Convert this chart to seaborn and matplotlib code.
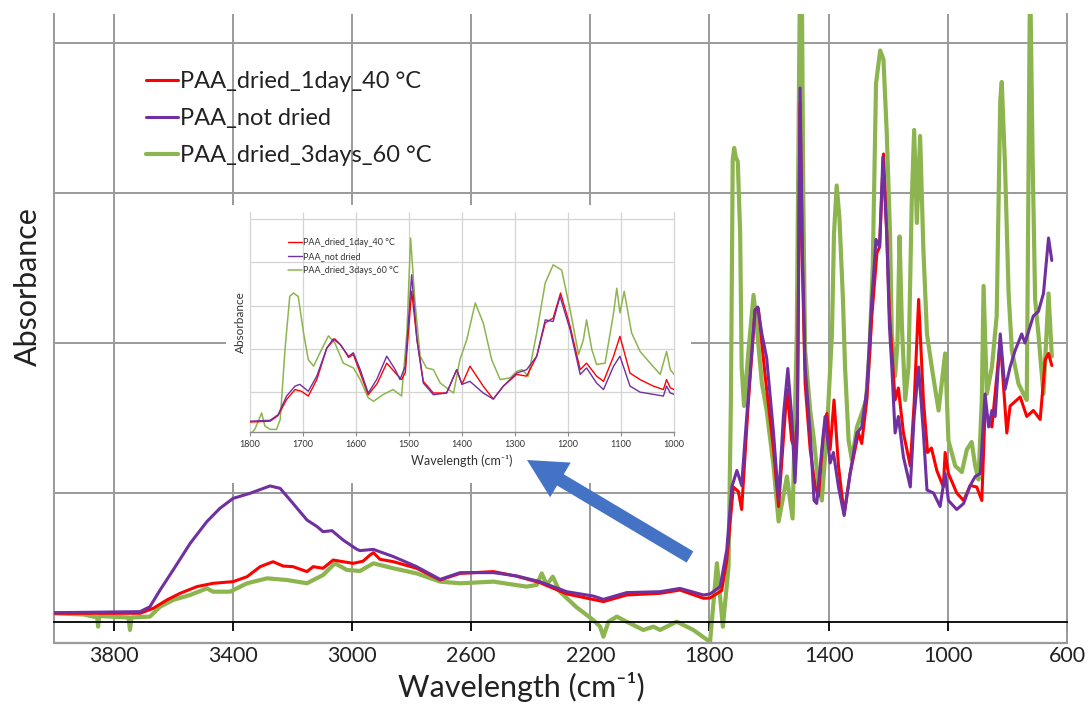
import matplotlib.pyplot as plt
from matplotlib.patches import Rectangle, FancyArrowPatch
import seaborn as sns

sns.set_style("white")
plt.rcParams['font.family'] = ['Lato', 'DejaVu Sans']

# ---------------------------------------------------
# Data
# ---------------------------------------------------

labels = ["PAA_dried_1day_40 °C", "PAA_not dried", "PAA_dried_3days_60 °C"]
colors = ["#ff0000", "#7030a0", "#8db54f"]

x_ticks = [3800, 3400, 3000, 2600, 2200, 1800, 1400, 1000, 600]
inset_ticks = [1800, 1700, 1600, 1500, 1400, 1300, 1200, 1100, 1000]

# full spectrum, red
red_wn = [4000, 3711, 3667, 3621, 3577, 3520, 3466, 3399, 3352, 3308, 3265, 3231,
          3198, 3151, 3130, 3097, 3063, 3030, 2996, 2963, 2939, 2928, 2906, 2861,
          2783, 2704, 2637, 2525, 2447, 2369, 2279, 2156, 2078, 1966, 1899, 1820,
          1798, 1759, 1742, 1720, 1703, 1692, 1669, 1647, 1636, 1613, 1585, 1568,
          1540, 1524, 1513, 1505, 1496, 1488, 1479, 1462, 1445, 1434, 1417, 1406,
          1395, 1382, 1367, 1348, 1328, 1300, 1289, 1272, 1255, 1238, 1229, 1216,
          1205, 1196, 1188, 1177, 1166, 1149, 1126, 1113, 1098, 1082, 1068, 1055,
          1037, 1015, 1009, 998, 970, 947, 925, 903, 886, 875, 852, 824, 802, 791,
          757, 735, 713, 690, 673, 662, 651]
red_abs = [0.198, 0.198, 0.231, 0.287, 0.331, 0.376, 0.398, 0.409, 0.442, 0.509, 0.542, 0.513,
           0.509, 0.476, 0.509, 0.498, 0.553, 0.542, 0.531, 0.545, 0.587, 0.602, 0.558, 0.542,
           0.498, 0.42, 0.464, 0.476, 0.445, 0.402, 0.327, 0.276, 0.32, 0.331, 0.353, 0.298,
           0.30, 0.35, 0.55, 1.04, 1.01, 0.89, 1.62, 2.22, 2.23, 1.78, 1.29, 0.91,
           1.69, 1.35, 1.29, 1.50, 3.6, 2.5, 1.73, 1.29, 1.04, 0.98, 1.40, 1.53,
           1.29, 1.62, 1.18, 0.86, 1.13, 1.40, 1.33, 1.62, 2.18, 2.60, 2.64, 3.26,
           2.73, 2.2, 1.95, 1.62, 1.70, 1.40, 1.18, 1.6, 2.29, 1.62, 1.27, 1.30,
           1.15, 1.04, 1.27, 1.13, 1.00, 0.95, 1.05, 1.04, 0.95, 1.55, 1.44, 2.02, 1.40, 1.58,
           1.64, 1.51, 1.55, 1.49, 1.89, 1.93, 1.85]

# full spectrum, purple
purple_wn = [4000, 3711, 3678, 3644, 3600, 3543, 3487, 3443, 3399, 3342, 3275, 3241,
             3198, 3151, 3117, 3097, 3067, 3030, 2983, 2973, 2928, 2861, 2783, 2704,
             2637, 2525, 2447, 2369, 2279, 2190, 2156, 2078, 1966, 1899, 1820, 1798,
             1764, 1742, 1725, 1708, 1692, 1675, 1647, 1638, 1624, 1608, 1585, 1568,
             1552, 1537, 1524, 1513, 1505, 1496, 1488, 1479, 1462, 1449, 1440, 1423,
             1412, 1395, 1384, 1367, 1348, 1328, 1305, 1289, 1272, 1255, 1241, 1229,
             1218, 1205, 1196, 1188, 1177, 1166, 1149, 1126, 1113, 1098, 1082, 1070,
             1048, 1026, 1009, 998, 970, 947, 925, 908, 891, 875, 863, 852, 841, 824,
             808, 791, 774, 752, 741, 713, 696, 679, 662, 651]
purple_abs = [0.202, 0.209, 0.242, 0.353, 0.487, 0.664, 0.809, 0.898, 0.964, 0.998, 1.047, 1.031,
              0.931, 0.82, 0.776, 0.742, 0.749, 0.687, 0.624, 0.616, 0.624, 0.576, 0.509, 0.424,
              0.469, 0.469, 0.447, 0.409, 0.342, 0.313, 0.291, 0.336, 0.342, 0.364, 0.32, 0.327,
              0.376, 0.62, 1.04, 1.15, 1.05, 1.51, 2.22, 2.24, 2.06, 1.90, 1.40, 0.95,
              1.51, 1.83, 1.51, 1.07, 1.40, 3.7, 2.6, 1.84, 1.40, 0.95, 0.93, 1.29,
              1.51, 1.20, 1.27, 1.04, 0.85, 1.13, 1.40, 1.44, 1.69, 2.29, 2.69, 2.64,
              3.24, 2.73, 2.11, 1.84, 1.40, 1.51, 1.24, 1.04, 1.51, 1.84, 1.40, 1.02,
              1.00, 0.91, 1.13, 0.95, 0.89, 0.93, 1.05, 1.11, 1.13, 1.66, 1.44, 1.55, 1.51, 2.06,
              1.69, 1.84, 1.95, 2.06, 2.00, 2.18, 2.21, 2.33, 2.70, 2.55]

# full spectrum, green
green_wn = [4000, 3900, 3855, 3852, 3848, 3750, 3745, 3740, 3678, 3644, 3600, 3543,
            3487, 3466, 3409, 3352, 3285, 3218, 3151, 3097, 3057, 3017, 2973, 2928,
            2861, 2783, 2704, 2637, 2525, 2414, 2380, 2363, 2346, 2326, 2302, 2246,
            2190, 2167, 2156, 2139, 2111, 2078, 2022, 1988, 1966, 1910, 1854, 1815,
            1798, 1775, 1755, 1736, 1728, 1722, 1717, 1712, 1705, 1697, 1692, 1684,
            1669, 1652, 1641, 1624, 1608, 1585, 1568, 1540, 1521, 1507, 1501, 1496,
            1490, 1485, 1479, 1462, 1449, 1434, 1423, 1406, 1389, 1382, 1373, 1364,
            1352, 1345, 1333, 1322, 1305, 1289, 1274, 1263, 1252, 1241, 1227, 1216,
            1205, 1194, 1188, 1177, 1169, 1162, 1154, 1143, 1132, 1121, 1113, 1104,
            1093, 1082, 1070, 1054, 1031, 1009, 998, 975, 953, 936, 920, 908, 897,
            886, 880, 869, 852, 836, 824, 819, 808, 796, 785, 763, 746, 735, 729,
            724, 715, 707, 696, 679, 662, 651]
green_abs = [0.198, 0.19, 0.17, 0.109, 0.18, 0.17, 0.087, 0.17, 0.176, 0.242, 0.287, 0.32,
             0.364, 0.342, 0.342, 0.398, 0.431, 0.42, 0.398, 0.453, 0.531, 0.487, 0.48, 0.531,
             0.498, 0.464, 0.409, 0.398, 0.409, 0.376, 0.387, 0.464, 0.387, 0.442, 0.342, 0.238,
             0.153, 0.109, 0.042, 0.142, 0.176, 0.142, 0.087, 0.109, 0.087, 0.142, 0.087, 0.031,
             0.009, 0.532, 0.109, 0.509, 1.62, 3.22, 3.30, 3.24, 3.21, 2.73, 1.84, 1.58,
             1.95, 2.32, 2.10, 1.73, 1.55, 1.18, 0.81, 1.11, 0.83, 2.06, 3.40, 4.5,
             4.4, 2.95, 1.95, 1.55, 1.35, 1.04, 0.95, 1.40, 2.06, 2.73, 3.05, 2.84,
             2.29, 1.84, 1.35, 1.22, 1.44, 1.53, 1.62, 1.95, 2.51, 3.73, 3.95, 3.89,
             3.40, 2.73, 2.06, 1.78, 2.00, 2.71, 2.11, 1.62, 1.84, 2.95, 3.42, 2.80,
             3.38, 2.62, 2.06, 1.84, 1.55, 1.93, 1.35, 1.18, 1.14, 1.29, 1.34, 1.18, 1.09,
             1.62, 2.38, 1.66, 1.84, 2.18, 3.62, 3.74, 3.18, 2.33, 1.95, 1.73, 1.66, 1.62, 3.18,
             4.5, 3.18, 2.29, 2.06, 1.66, 2.33, 1.91]

# inset (1800-1000 cm-1), red
in_red_wn = [1800, 1762, 1747, 1731, 1715, 1703, 1690, 1674, 1655, 1640, 1628, 1614,
             1605, 1592, 1577, 1560, 1542, 1523, 1514, 1507, 1495, 1485, 1473, 1454,
             1429, 1410, 1400, 1385, 1360, 1341, 1322, 1297, 1278, 1259, 1243, 1228,
             1214, 1196, 1177, 1165, 1146, 1133, 1114, 1102, 1083, 1064, 1039, 1020,
             1014, 1007, 1000]
in_red_abs = [0.31, 0.33, 0.46, 0.83, 1.06, 1.02, 0.91, 1.29, 2.02, 2.23, 2.08, 1.80,
              1.87, 1.44, 0.94, 1.20, 1.67, 1.41, 1.29, 1.45, 3.33, 2.21, 1.25, 0.98,
              0.98, 1.52, 1.18, 1.60, 1.14, 0.84, 1.14, 1.41, 1.37, 1.83, 2.60, 2.71,
              3.29, 2.52, 1.52, 1.67, 1.37, 1.25, 1.83, 2.29, 1.44, 1.29, 1.14, 1.06,
              1.29, 1.10, 1.06]

# inset, purple
in_purple_wn = [1800, 1762, 1747, 1731, 1715, 1706, 1690, 1674, 1655, 1643, 1630, 1614,
                1605, 1592, 1577, 1561, 1542, 1526, 1517, 1507, 1495, 1485, 1473, 1454,
                1429, 1410, 1400, 1385, 1360, 1341, 1322, 1297, 1278, 1259, 1243, 1228,
                1215, 1196, 1177, 1165, 1146, 1133, 1114, 1102, 1083, 1064, 1039, 1020,
                1014, 1007, 1000]
in_purple_abs = [0.33, 0.35, 0.48, 0.91, 1.14, 1.18, 1.02, 1.37, 2.02, 2.23, 2.10, 1.83,
                 1.91, 1.52, 0.98, 1.29, 1.83, 1.52, 1.29, 1.60, 3.71, 2.21, 1.21, 0.94,
                 0.98, 1.52, 1.18, 1.25, 0.98, 0.84, 1.14, 1.44, 1.52, 1.83, 2.67, 2.63,
                 3.21, 2.44, 1.41, 1.56, 1.21, 1.06, 1.60, 1.83, 1.14, 1.00, 0.95, 0.91,
                 1.14, 0.98, 0.95]

# inset, green
in_green_wn = [1800, 1791, 1778, 1772, 1762, 1750, 1743, 1734, 1725, 1718, 1709, 1699,
               1690, 1680, 1668, 1652, 1640, 1624, 1605, 1592, 1577, 1567, 1548, 1530,
               1514, 1504, 1497, 1489, 1479, 1467, 1454, 1441, 1429, 1416, 1404, 1391,
               1375, 1360, 1344, 1328, 1309, 1297, 1287, 1275, 1259, 1243, 1228, 1212,
               1196, 1180, 1171, 1165, 1155, 1146, 1130, 1114, 1108, 1102, 1094, 1080,
               1064, 1045, 1026, 1014, 1007, 1000]
in_green_abs = [0.02, 0.14, 0.52, 0.22, 0.14, 0.14, 0.37, 1.98, 3.21, 3.29, 3.21, 2.37,
                1.75, 1.60, 1.91, 2.30, 2.14, 1.67, 1.56, 1.29, 0.87, 0.79, 0.95, 1.06,
                0.91, 2.37, 4.56, 3.13, 1.83, 1.56, 1.52, 1.21, 1.10, 0.98, 1.75, 2.21,
                3.06, 2.60, 1.75, 1.29, 1.33, 1.48, 1.52, 1.37, 2.37, 3.52, 3.94, 3.82,
                2.90, 1.87, 2.21, 2.67, 1.98, 1.64, 1.67, 2.83, 3.40, 2.83, 3.33, 2.37,
                1.94, 1.67, 1.41, 1.94, 1.52, 1.41]


# ---------------------------------------------------
# Main chart
# ---------------------------------------------------

W, H = 1090, 711
fig = plt.figure(figsize=(W / 100, H / 100), dpi=100)

ax = fig.add_axes([54 / W, 68 / H, 1013 / W, 629 / H])
y_top = 4.193
axis_y = 0.14
grid_c = "#9a9a9a"

ax.set_xlim(4000, 600)
ax.set_ylim(0, y_top)

ax.hlines([1, 2, 3, 4], 4000, 600, color=grid_c, lw=1.4, zorder=0.5)
ax.vlines(x_ticks[:-1], axis_y, y_top, color=grid_c, lw=1.4, zorder=0.5)

sns.lineplot(x=green_wn, y=green_abs, ax=ax, color=colors[2], lw=3.0,
             sort=False, estimator=None, label=labels[2], zorder=2)
sns.lineplot(x=red_wn, y=red_abs, ax=ax, color=colors[0], lw=2.2,
             sort=False, estimator=None, label=labels[0], zorder=3)
sns.lineplot(x=purple_wn, y=purple_abs, ax=ax, color=colors[1], lw=2.2,
             sort=False, estimator=None, label=labels[1], zorder=4)

for side in ["left", "right"]:
    ax.spines[side].set_color(grid_c)
    ax.spines[side].set_linewidth(1.4)
ax.spines["top"].set_visible(False)
ax.spines["bottom"].set_position(("data", axis_y))
ax.spines["bottom"].set_color("black")
ax.spines["bottom"].set_linewidth(1.3)
ax.axhline(0, color=grid_c, lw=1.6, clip_on=False)

ax.set_xticks(x_ticks)
ax.set_xticklabels([str(t) for t in x_ticks])
ax.set_yticks([])
ax.tick_params(axis="x", bottom=True, direction="out", length=6.5, width=1.3,
               color="black", labelsize=15.5, labelcolor="#222222", pad=11)

ax.set_ylabel("Absorbance", fontsize=22, color="#222222")
ax.yaxis.set_label_coords(-0.012, 0.566)
ax.set_xlabel("Wavelength (cm⁻¹)", fontsize=22, color="#222222")
ax.xaxis.set_label_coords((521 - 54) / 1013, -0.046)

h, l = ax.get_legend_handles_labels()
order = [l.index(s) for s in labels]
ax.legend([h[i] for i in order], labels, loc="upper left",
          bbox_to_anchor=(146 / W, 1 - 71 / H), bbox_transform=fig.transFigure,
          frameon=False, fontsize=17, handlelength=1.35, handletextpad=0.1,
          labelspacing=0.68, borderpad=0, borderaxespad=0, labelcolor="#222222")

# ---------------------------------------------------
# Inset (zoom on 1800-1000 cm-1)
# ---------------------------------------------------

fig.add_artist(Rectangle((226 / W, 1 - 483 / H), 465 / W, 278 / H,
                         transform=fig.transFigure, facecolor="white",
                         edgecolor="none", zorder=2))

axi = fig.add_axes([250 / W, (H - 432) / H, 424 / W, 220 / H])
axi.set_zorder(3)
axi.set_xlim(1800, 1000)
axi.set_ylim(0.08, 5.16)

in_grid = "#d4d4d4"
axi.hlines([1, 2, 3, 4, 5], 1800, 1000, color=in_grid, lw=0.9, zorder=0.5)
axi.vlines(inset_ticks[1:-1], 0.08, 5.16, color=in_grid, lw=0.9, zorder=0.5)

sns.lineplot(x=in_green_wn, y=in_green_abs, ax=axi, color=colors[2], lw=1.1,
             sort=False, estimator=None, label=labels[2], zorder=2)
sns.lineplot(x=in_red_wn, y=in_red_abs, ax=axi, color=colors[0], lw=1.0,
             sort=False, estimator=None, label=labels[0], zorder=3)
sns.lineplot(x=in_purple_wn, y=in_purple_abs, ax=axi, color=colors[1], lw=1.0,
             sort=False, estimator=None, label=labels[1], zorder=4)

for side in ["left", "right"]:
    axi.spines[side].set_color(in_grid)
    axi.spines[side].set_linewidth(0.9)
axi.spines["top"].set_visible(False)
axi.spines["bottom"].set_color("#8a8a8a")
axi.spines["bottom"].set_linewidth(1.0)

axi.set_xticks(inset_ticks)
axi.set_xticklabels([str(t) for t in inset_ticks])
axi.set_yticks([])
axi.tick_params(axis="x", bottom=True, direction="out", length=3, width=0.8,
                color="#8a8a8a", labelsize=6.5, labelcolor="#333333", pad=3)
axi.set_ylabel("Absorbance", fontsize=8.5, color="#333333", labelpad=3)
axi.set_xlabel("Wavelength (cm⁻¹)", fontsize=9, color="#333333", labelpad=4)

h, l = axi.get_legend_handles_labels()
order = [l.index(s) for s in labels]
axi.legend([h[i] for i in order], labels, loc="upper left",
           bbox_to_anchor=(288 / W, 1 - 238 / H), bbox_transform=fig.transFigure,
           frameon=False, fontsize=6.5, handlelength=1.6, handletextpad=0.1,
           labelspacing=0.55, borderpad=0, borderaxespad=0, labelcolor="#333333")

# blue arrow pointing from the 1800-600 region to the inset
fig.add_artist(FancyArrowPatch((690 / W, 1 - 557 / H), (527 / W, 1 - 460 / H),
                               transform=fig.transFigure,
                               arrowstyle="simple,head_length=1.4,head_width=1.45,tail_width=0.47",
                               mutation_scale=20, color="#4472c4", lw=0,
                               shrinkA=0, shrinkB=0, zorder=5))

fig.savefig("out.png", dpi=100)
